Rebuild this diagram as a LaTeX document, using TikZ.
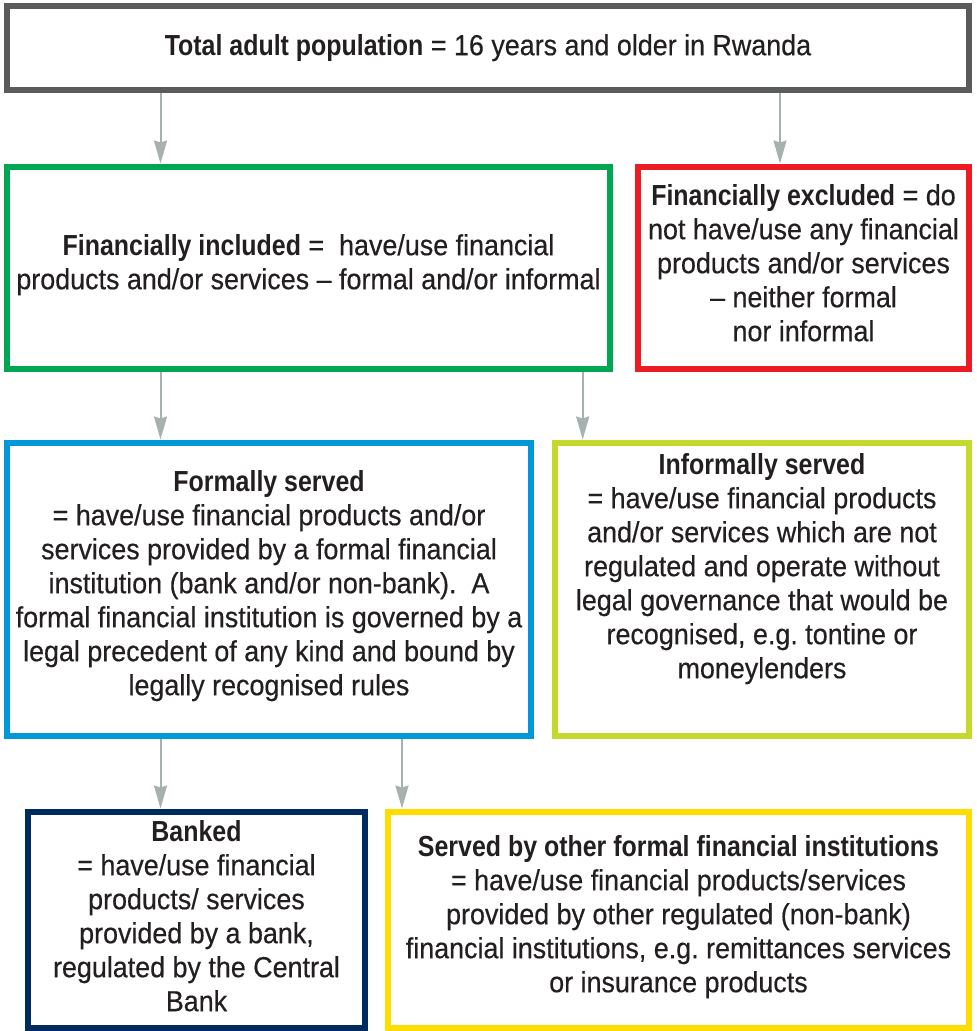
\documentclass[tikz,border=0pt]{standalone}
\usepackage{fontspec}
\usetikzlibrary{arrows.meta}
\newfontfamily\rgf{Liberation Sans}[FakeStretch=0.927, FakeBold=0.4]
\newfontfamily\bdf{Liberation Sans Bold}[FakeStretch=0.86]
\newcommand\firstl{\vrule height 22pt depth 0pt width 0pt}
\definecolor{cgray}{HTML}{5A5B5D}
\definecolor{cgreen}{HTML}{00A651}
\definecolor{cred}{HTML}{ED1C24}
\definecolor{cblue}{HTML}{0098D8}
\definecolor{clime}{HTML}{C5D82E}
\definecolor{cnavy}{HTML}{002B5F}
\definecolor{cyellow}{HTML}{FFDD00}
\definecolor{carrow}{HTML}{A7B1AF}
\definecolor{ctext}{HTML}{231F20}
\begin{document}
\begin{tikzpicture}[x=1pt,y=-1pt,
  box/.style={draw, line width=6pt, rectangle, inner sep=0pt, fill=white},
  txt/.style={anchor=north, align=center, inner sep=0pt, text=ctext,
    font=\fontsize{29}{34}\selectfont\rgf\frenchspacing},
  arr/.style={draw=carrow, line width=2pt, -{Stealth[length=23pt,width=13pt,inset=2pt]}}]
\useasboundingbox (0,0) rectangle (977,1031);
\fill[white] (0,0) rectangle (977,1031);
% boxes
\node[box, draw=cgray, minimum width=962pt, minimum height=84pt] (top) at (488,48) {};
\node[box, draw=cgreen, minimum width=603pt, minimum height=202pt] (incl) at (308.5,267.5) {};
\node[box, draw=cred, minimum width=331pt, minimum height=202pt] (excl) at (803.5,267.5) {};
\node[box, draw=cblue, minimum width=524pt, minimum height=293.5pt] (formal) at (269,589.25) {};
\node[box, draw=clime, minimum width=414pt, minimum height=293.5pt] (informal) at (762,589.25) {};
\node[box, draw=cnavy, minimum width=336.4pt, minimum height=216pt] (banked) at (196.5,919.5) {};
\node[box, draw=cyellow, minimum width=581pt, minimum height=216pt] (other) at (678.5,919.5) {};
% texts
\node[txt] (ttop) at (488,33) {\firstl{\bdf Total adult population} = 16 years and older in Rwanda};
\node[txt] (tincl) at (308.5,233) {\firstl{\bdf Financially included} = \ have/use financial\\products and/or services – formal and/or informal};
\node[txt] (texcl) at (803.5,183) {\firstl{\bdf Financially excluded} = do\\not have/use any financial\\products and/or services\\– neither formal\\nor informal};
\node[txt] (tformal) at (269,469) {\firstl{\bdf Formally served}\\= have/use financial products and/or\\services provided by a formal financial\\institution (bank and/or non-bank). \ A\\formal financial institution is governed by a\\legal precedent of any kind and bound by\\legally recognised rules};
\node[txt] (tinformal) at (762,452) {\firstl{\bdf Informally served}\\= have/use financial products\\and/or services which are not\\regulated and operate without\\legal governance that would be\\recognised, e.g. tontine or\\moneylenders};
\node[txt] (tbanked) at (196.5,819) {\firstl{\bdf Banked}\\= have/use financial\\products/ services\\provided by a bank,\\regulated by the Central\\Bank};
\node[txt] (tother) at (678.5,834) {\firstl{\bdf Served by other formal financial institutions}\\= have/use financial products/services\\provided by other regulated (non-bank)\\financial institutions, e.g. remittances services\\or insurance products};
% arrow x positions
\coordinate (xa) at (160.5,0);
\coordinate (xb) at (780,0);
\coordinate (xc) at (582.7,0);
\coordinate (xd) at (402,0);
% connectors
\draw[arr] (xa |- top.south) -- (xa |- incl.north);
\draw[arr] (xb |- top.south) -- (xb |- excl.north);
\draw[arr] (xa |- incl.south) -- (xa |- formal.north);
\draw[arr] (xc |- incl.south) -- (xc |- informal.north);
\draw[arr] (xa |- formal.south) -- (xa |- banked.north);
\draw[arr] (xd |- formal.south) -- (xd |- other.north);
\end{tikzpicture}
\end{document}
